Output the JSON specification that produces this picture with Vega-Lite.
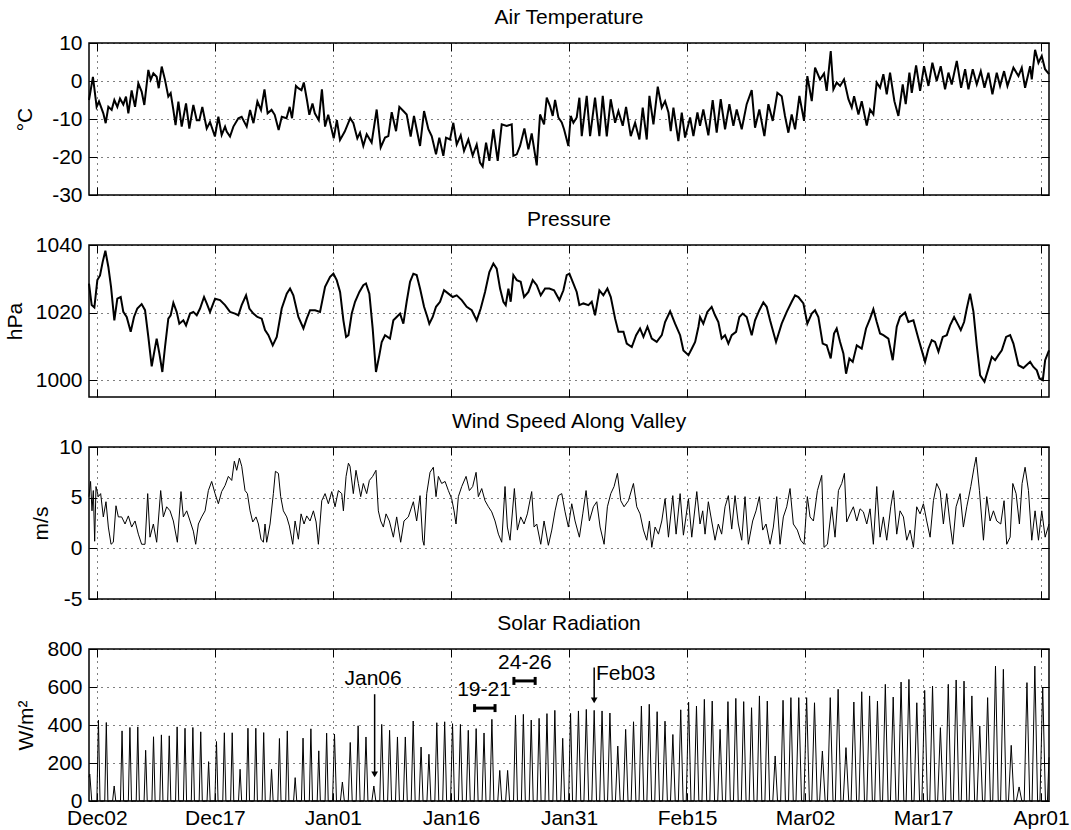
{
"$schema": "https://vega.github.io/schema/vega-lite/v6.json",
"background": "white",
"padding": {"left": 3, "top": 6, "right": 0, "bottom": 0},
"spacing": 50,
"bounds": "flush",
"config": {
  "font": "Liberation Sans",
  "view": {"stroke": "black", "strokeWidth": 1.5},
  "axis": {"labelFont": "Liberation Sans", "labelFontSize": 21, "labelColor": "black", "titleFont": "Liberation Sans", "titleFontSize": 21, "titleFontWeight": "normal", "titleColor": "black", "titlePadding": 10, "domain": false, "tickColor": "black", "tickSize": -8, "tickWidth": 1, "labelPadding": 15, "gridColor": "black", "gridDash": [1, 5], "gridOpacity": 1, "gridWidth": 1},
  "title": {"font": "Liberation Sans", "fontSize": 21, "fontWeight": "normal", "color": "black", "offset": 4}
},
"datasets": {
"T": [{"d":0,"v":-5},{"d":0.5,"v":1.1},{"d":0.97,"v":-6.8},{"d":1.27,"v":-5.4},{"d":1.82,"v":-8.5},{"d":2.12,"v":-11.1},{"d":2.46,"v":-6.8},{"d":2.88,"v":-7.6},{"d":3.22,"v":-5},{"d":3.6,"v":-6.8},{"d":3.94,"v":-4.6},{"d":4.36,"v":-6.2},{"d":4.7,"v":-4.1},{"d":5,"v":-8.5},{"d":5.42,"v":-2.5},{"d":5.85,"v":-6.8},{"d":6.27,"v":-0.6},{"d":6.69,"v":-2.8},{"d":7.03,"v":-6.3},{"d":7.54,"v":2.9},{"d":7.84,"v":0.3},{"d":8.18,"v":2},{"d":8.6,"v":1.1},{"d":8.86,"v":-1.9},{"d":9.24,"v":3.8},{"d":9.66,"v":0.3},{"d":10.08,"v":-4.1},{"d":10.38,"v":-3.2},{"d":10.72,"v":-7.6},{"d":11,"v":-11.6},{"d":11.36,"v":-5.4},{"d":11.78,"v":-12},{"d":12.33,"v":-5.9},{"d":12.75,"v":-12.5},{"d":13.26,"v":-6.3},{"d":13.69,"v":-10.3},{"d":14.03,"v":-10.3},{"d":14.4,"v":-6.8},{"d":14.96,"v":-12.5},{"d":15.38,"v":-10.8},{"d":16,"v":-14.6},{"d":16.44,"v":-9.4},{"d":16.86,"v":-14.2},{"d":17.29,"v":-12},{"d":17.5,"v":-13.3},{"d":17.92,"v":-14.6},{"d":18.35,"v":-12},{"d":18.98,"v":-9.8},{"d":19.4,"v":-9.4},{"d":20.04,"v":-12},{"d":20.47,"v":-7.6},{"d":20.9,"v":-11.1},{"d":21.4,"v":-5.4},{"d":21.86,"v":-7.6},{"d":22.3,"v":-2.2},{"d":22.7,"v":-8.5},{"d":23.2,"v":-7.6},{"d":23.6,"v":-8.9},{"d":24.1,"v":-12.9},{"d":24.5,"v":-9.4},{"d":25.1,"v":-9.8},{"d":25.5,"v":-6.8},{"d":25.8,"v":-9.8},{"d":26.3,"v":-1.3},{"d":26.6,"v":-1.9},{"d":27,"v":-2.4},{"d":27.3,"v":-0.4},{"d":27.7,"v":-5},{"d":28,"v":-8.9},{"d":28.4,"v":-5.9},{"d":28.7,"v":-8.5},{"d":29.2,"v":-10.3},{"d":29.6,"v":-2.2},{"d":30,"v":-12},{"d":30.4,"v":-8.9},{"d":31.1,"v":-15.1},{"d":31.5,"v":-10.3},{"d":31.9,"v":-15.5},{"d":32.5,"v":-13.3},{"d":33.2,"v":-9.8},{"d":33.6,"v":-11.1},{"d":34.1,"v":-15.1},{"d":34.44,"v":-13.6},{"d":34.86,"v":-17.1},{"d":35.29,"v":-14},{"d":35.92,"v":-16.2},{"d":36.56,"v":-7.5},{"d":37.07,"v":-17.5},{"d":37.62,"v":-14.9},{"d":38.04,"v":-14.5},{"d":38.47,"v":-8.2},{"d":39.02,"v":-13.2},{"d":39.44,"v":-6.8},{"d":39.95,"v":-7.9},{"d":40.37,"v":-8.8},{"d":40.88,"v":-14.6},{"d":41.3,"v":-9.2},{"d":41.64,"v":-12.7},{"d":42.07,"v":-17.1},{"d":42.58,"v":-7.9},{"d":43.13,"v":-12.7},{"d":43.55,"v":-14.5},{"d":44.1,"v":-19.3},{"d":44.52,"v":-14.9},{"d":45.03,"v":-19.7},{"d":45.37,"v":-14.9},{"d":45.88,"v":-15.4},{"d":46.3,"v":-11},{"d":46.73,"v":-16.7},{"d":47.24,"v":-14.3},{"d":47.66,"v":-18.4},{"d":48.21,"v":-15.4},{"d":48.76,"v":-19.6},{"d":49.27,"v":-16.7},{"d":49.69,"v":-21.5},{"d":50.03,"v":-22.5},{"d":50.46,"v":-16.2},{"d":50.88,"v":-21},{"d":51.39,"v":-12.7},{"d":51.94,"v":-21},{"d":52.45,"v":-11.4},{"d":53.08,"v":-11.8},{"d":53.72,"v":-11.4},{"d":53.93,"v":-19.7},{"d":54.36,"v":-19.3},{"d":54.78,"v":-17.1},{"d":55.33,"v":-12.5},{"d":55.84,"v":-18},{"d":56.26,"v":-13.8},{"d":56.9,"v":-22.2},{"d":57.32,"v":-8.8},{"d":57.83,"v":-11.4},{"d":58.17,"v":-4.4},{"d":58.59,"v":-6.6},{"d":58.93,"v":-9.2},{"d":59.23,"v":-5},{"d":59.65,"v":-9.6},{"d":60.08,"v":-10.9},{"d":60.37,"v":-12.7},{"d":60.92,"v":-17.1},{"d":61.22,"v":-9.2},{"d":61.56,"v":-11},{"d":61.98,"v":-9.6},{"d":62.32,"v":-4.4},{"d":62.62,"v":-14.5},{"d":63.25,"v":-3.9},{"d":63.68,"v":-14.5},{"d":64.31,"v":-4.4},{"d":64.86,"v":-14.5},{"d":65.29,"v":-3.9},{"d":65.8,"v":-14.6},{"d":66.3,"v":-4.8},{"d":66.86,"v":-11},{"d":67.28,"v":-7.9},{"d":67.83,"v":-11.8},{"d":68.25,"v":-6.8},{"d":68.85,"v":-14.5},{"d":69.4,"v":-11},{"d":69.95,"v":-15.4},{"d":70.37,"v":-7},{"d":70.88,"v":-15.4},{"d":71.22,"v":-3.9},{"d":71.73,"v":-11.4},{"d":72.28,"v":-1.5},{"d":72.79,"v":-7},{"d":73.21,"v":-5.3},{"d":73.64,"v":-8.3},{"d":73.93,"v":-13.2},{"d":74.27,"v":-7},{"d":74.9,"v":-15.8},{"d":75.33,"v":-8.3},{"d":75.75,"v":-14.9},{"d":76.39,"v":-9.6},{"d":76.81,"v":-14.5},{"d":77.32,"v":-8.3},{"d":77.65,"v":-11.8},{"d":78.07,"v":-7.5},{"d":78.71,"v":-14.3},{"d":79.26,"v":-5},{"d":79.77,"v":-13.6},{"d":80.28,"v":-4.8},{"d":80.83,"v":-12.7},{"d":81.38,"v":-6.1},{"d":81.89,"v":-11.8},{"d":82.31,"v":-7.5},{"d":82.95,"v":-12.7},{"d":83.58,"v":-6.1},{"d":84.22,"v":-2.4},{"d":84.64,"v":-12.3},{"d":85.19,"v":-7.5},{"d":85.83,"v":-14.5},{"d":86.34,"v":-6.1},{"d":86.89,"v":-10.5},{"d":87.48,"v":-3.1},{"d":88.03,"v":-4},{"d":88.45,"v":-9.2},{"d":88.88,"v":-13.6},{"d":89.3,"v":-8.8},{"d":89.73,"v":-12.7},{"d":90.28,"v":-3.9},{"d":90.87,"v":-10.5},{"d":91.29,"v":1.3},{"d":91.85,"v":-5.3},{"d":92.27,"v":3.5},{"d":92.9,"v":0.4},{"d":93.41,"v":2},{"d":93.75,"v":-2.6},{"d":94.26,"v":7.9},{"d":94.6,"v":-2.2},{"d":95.02,"v":-0.4},{"d":95.45,"v":-1.3},{"d":95.95,"v":0.4},{"d":96.51,"v":-4.8},{"d":96.93,"v":-7},{"d":97.23,"v":-4},{"d":97.78,"v":-8.8},{"d":98.2,"v":-5.3},{"d":98.84,"v":-11.7},{"d":99.26,"v":-7.5},{"d":99.68,"v":-8.8},{"d":100.1,"v":-0.4},{"d":100.53,"v":-1.8},{"d":100.95,"v":1.8},{"d":101.38,"v":-3.5},{"d":101.8,"v":2.2},{"d":102.35,"v":-5.3},{"d":102.86,"v":-9.2},{"d":103.41,"v":-0.9},{"d":103.79,"v":-6.1},{"d":104.26,"v":2.2},{"d":104.56,"v":-3.1},{"d":105.11,"v":4.1},{"d":105.62,"v":-2.6},{"d":106.12,"v":3.9},{"d":106.68,"v":-1.3},{"d":107.18,"v":4.8},{"d":107.73,"v":0},{"d":108.24,"v":3.9},{"d":108.79,"v":-2.2},{"d":109.22,"v":2.2},{"d":109.64,"v":-0.9},{"d":110.28,"v":5.3},{"d":110.83,"v":-1.8},{"d":111.34,"v":3.1},{"d":111.76,"v":-2.2},{"d":112.31,"v":3.1},{"d":112.82,"v":-0.9},{"d":113.33,"v":2.6},{"d":113.8,"v":-1.8},{"d":114.3,"v":2.2},{"d":114.81,"v":-3.5},{"d":115.36,"v":2.2},{"d":115.78,"v":-1.3},{"d":116.29,"v":2.6},{"d":116.72,"v":-1.3},{"d":117.48,"v":3.5},{"d":118.12,"v":1.3},{"d":118.54,"v":3.5},{"d":118.96,"v":-1.8},{"d":119.6,"v":3.9},{"d":119.81,"v":0.4},{"d":120.23,"v":8.2},{"d":120.66,"v":4.8},{"d":121.08,"v":6.6},{"d":121.5,"v":3.1},{"d":122,"v":1.8}],
"P": [{"d":0,"v":1028.6},{"d":0.34,"v":1022.2},{"d":0.68,"v":1021.5},{"d":1.06,"v":1029.6},{"d":1.4,"v":1031},{"d":1.74,"v":1035},{"d":2.08,"v":1038.3},{"d":2.46,"v":1033.5},{"d":2.8,"v":1027.6},{"d":3.22,"v":1017.7},{"d":3.6,"v":1024.1},{"d":4.03,"v":1024.6},{"d":4.36,"v":1020.2},{"d":4.79,"v":1018.7},{"d":5.3,"v":1014.3},{"d":5.72,"v":1018.7},{"d":6.14,"v":1021.2},{"d":6.69,"v":1022.5},{"d":7.12,"v":1020.7},{"d":7.54,"v":1012.8},{"d":7.97,"v":1004.1},{"d":8.26,"v":1007.9},{"d":8.6,"v":1012.3},{"d":8.94,"v":1007.9},{"d":9.32,"v":1002.4},{"d":9.66,"v":1009.8},{"d":10.08,"v":1018.2},{"d":10.38,"v":1019.2},{"d":10.72,"v":1022.9},{"d":11.14,"v":1020.2},{"d":11.48,"v":1016.7},{"d":11.99,"v":1017.7},{"d":12.33,"v":1016.2},{"d":12.84,"v":1019.7},{"d":13.26,"v":1020.2},{"d":13.69,"v":1019.2},{"d":14.11,"v":1021.2},{"d":14.62,"v":1024.6},{"d":14.96,"v":1022.7},{"d":15.38,"v":1020.2},{"d":16.02,"v":1024.1},{"d":16.65,"v":1023.7},{"d":17.29,"v":1022.2},{"d":17.92,"v":1020.2},{"d":18.56,"v":1019.7},{"d":18.98,"v":1019.2},{"d":19.4,"v":1022.2},{"d":19.96,"v":1025.1},{"d":20.38,"v":1021.2},{"d":20.89,"v":1019.7},{"d":21.4,"v":1018.7},{"d":21.95,"v":1018.2},{"d":22.37,"v":1014.8},{"d":22.8,"v":1013.3},{"d":23.35,"v":1010.3},{"d":23.86,"v":1012.8},{"d":24.49,"v":1021.2},{"d":25.13,"v":1025.6},{"d":25.55,"v":1027.1},{"d":25.97,"v":1025.1},{"d":26.61,"v":1018.7},{"d":27.25,"v":1015.3},{"d":27.67,"v":1018.2},{"d":28.09,"v":1020.7},{"d":28.73,"v":1020.7},{"d":29.36,"v":1020.2},{"d":30,"v":1027.6},{"d":30.64,"v":1030.6},{"d":31.06,"v":1031.5},{"d":31.48,"v":1029.6},{"d":31.91,"v":1026.1},{"d":32.33,"v":1017.7},{"d":32.67,"v":1012.8},{"d":32.97,"v":1013.3},{"d":33.39,"v":1019.7},{"d":33.81,"v":1023.2},{"d":34.36,"v":1026.1},{"d":34.86,"v":1028.1},{"d":35.2,"v":1028.6},{"d":35.63,"v":1025.6},{"d":36.05,"v":1015.3},{"d":36.47,"v":1002.4},{"d":36.9,"v":1007.4},{"d":37.2,"v":1011.3},{"d":37.62,"v":1013.3},{"d":38.25,"v":1012.3},{"d":38.68,"v":1017.7},{"d":39.1,"v":1018.7},{"d":39.53,"v":1019.7},{"d":39.95,"v":1016.7},{"d":40.37,"v":1023.2},{"d":40.8,"v":1029.1},{"d":41.22,"v":1031.5},{"d":41.64,"v":1031.1},{"d":42.07,"v":1027.1},{"d":42.58,"v":1021.7},{"d":43,"v":1018.7},{"d":43.25,"v":1016.7},{"d":43.68,"v":1018.7},{"d":44.1,"v":1021.7},{"d":44.61,"v":1023.2},{"d":45.12,"v":1026.6},{"d":45.67,"v":1025.6},{"d":46.22,"v":1024.6},{"d":46.73,"v":1025.1},{"d":47.37,"v":1023.7},{"d":48,"v":1021.7},{"d":48.64,"v":1020.7},{"d":49.27,"v":1017.7},{"d":49.78,"v":1021.2},{"d":50.33,"v":1026.1},{"d":50.88,"v":1032},{"d":51.39,"v":1034.5},{"d":51.81,"v":1033},{"d":52.24,"v":1027.1},{"d":52.66,"v":1023.2},{"d":52.96,"v":1022.2},{"d":53.3,"v":1027.1},{"d":53.59,"v":1023.2},{"d":53.93,"v":1031.1},{"d":54.36,"v":1029.6},{"d":54.86,"v":1029.1},{"d":55.29,"v":1024.6},{"d":55.84,"v":1026.1},{"d":56.39,"v":1029.6},{"d":56.9,"v":1028.1},{"d":57.41,"v":1025.1},{"d":57.96,"v":1027.1},{"d":58.51,"v":1027.1},{"d":59.1,"v":1026.6},{"d":59.78,"v":1023.7},{"d":60.29,"v":1026.6},{"d":60.71,"v":1031.1},{"d":61.05,"v":1031.5},{"d":61.47,"v":1029.1},{"d":61.98,"v":1026.1},{"d":62.32,"v":1022.2},{"d":62.83,"v":1022.7},{"d":63.47,"v":1022.2},{"d":63.89,"v":1023.2},{"d":64.31,"v":1019.2},{"d":64.86,"v":1026.6},{"d":65.37,"v":1025.1},{"d":65.88,"v":1027.1},{"d":66.31,"v":1024.6},{"d":66.86,"v":1018.2},{"d":67.28,"v":1014.3},{"d":67.92,"v":1014.3},{"d":68.34,"v":1010.8},{"d":68.98,"v":1009.8},{"d":69.53,"v":1013.3},{"d":70.03,"v":1015.3},{"d":70.46,"v":1012.8},{"d":70.97,"v":1015.8},{"d":71.52,"v":1012.3},{"d":72.15,"v":1011.3},{"d":72.79,"v":1013.3},{"d":73.21,"v":1017.2},{"d":73.85,"v":1020.4},{"d":74.48,"v":1016.7},{"d":75.12,"v":1013.3},{"d":75.54,"v":1008.8},{"d":76.18,"v":1007.4},{"d":76.6,"v":1009.3},{"d":77.03,"v":1011.3},{"d":77.45,"v":1015.8},{"d":77.65,"v":1018.7},{"d":78.07,"v":1016.7},{"d":78.58,"v":1020.2},{"d":79.13,"v":1021.7},{"d":79.56,"v":1019.2},{"d":79.98,"v":1017.2},{"d":80.4,"v":1012.3},{"d":80.83,"v":1013.3},{"d":81.25,"v":1010.8},{"d":81.68,"v":1013.3},{"d":82.23,"v":1014.3},{"d":82.65,"v":1018.7},{"d":83.07,"v":1019.7},{"d":83.58,"v":1018.7},{"d":84.22,"v":1013.3},{"d":84.64,"v":1017.7},{"d":85.19,"v":1020.7},{"d":85.7,"v":1023},{"d":86.12,"v":1021.7},{"d":86.55,"v":1017.7},{"d":87.31,"v":1011.3},{"d":88.03,"v":1016.7},{"d":88.67,"v":1020.2},{"d":89.3,"v":1023.2},{"d":89.73,"v":1025.1},{"d":90.15,"v":1024.6},{"d":90.79,"v":1022.7},{"d":91.29,"v":1016.7},{"d":91.85,"v":1019.7},{"d":92.27,"v":1020.7},{"d":92.69,"v":1018.7},{"d":93.24,"v":1010.8},{"d":93.75,"v":1010.3},{"d":94.26,"v":1006.4},{"d":94.68,"v":1013.8},{"d":95.02,"v":1015.3},{"d":95.45,"v":1011.3},{"d":95.87,"v":1007.9},{"d":96.21,"v":1001.9},{"d":96.63,"v":1006.4},{"d":97.06,"v":1005.4},{"d":97.57,"v":1010.3},{"d":98.2,"v":1009.3},{"d":98.75,"v":1015.3},{"d":99.26,"v":1018.2},{"d":99.68,"v":1021},{"d":100.11,"v":1017.2},{"d":100.53,"v":1013.8},{"d":100.95,"v":1013.3},{"d":101.59,"v":1012.3},{"d":102.14,"v":1005.9},{"d":102.65,"v":1015.8},{"d":103.07,"v":1018.7},{"d":103.71,"v":1020},{"d":104.13,"v":1017.2},{"d":104.77,"v":1017.7},{"d":105.4,"v":1012.3},{"d":105.83,"v":1008.8},{"d":106.25,"v":1005.4},{"d":106.68,"v":1009.3},{"d":107.1,"v":1011.8},{"d":107.52,"v":1011.3},{"d":107.95,"v":1008.4},{"d":108.5,"v":1012.8},{"d":109.01,"v":1013.3},{"d":109.43,"v":1016.2},{"d":109.94,"v":1018.7},{"d":110.49,"v":1016.2},{"d":110.79,"v":1014.8},{"d":111.21,"v":1017.2},{"d":111.55,"v":1021.2},{"d":111.97,"v":1025.6},{"d":112.4,"v":1020.2},{"d":112.82,"v":1010.3},{"d":113.25,"v":1001.4},{"d":113.8,"v":999.5},{"d":114.3,"v":1003.4},{"d":114.73,"v":1006.9},{"d":115.15,"v":1005.9},{"d":115.57,"v":1007.4},{"d":116,"v":1008.8},{"d":116.55,"v":1012.8},{"d":117.06,"v":1013.3},{"d":117.48,"v":1010.8},{"d":118.12,"v":1004.4},{"d":118.75,"v":1003.6},{"d":119.6,"v":1005.4},{"d":120.02,"v":1003.9},{"d":120.45,"v":1002.9},{"d":120.79,"v":1000.5},{"d":121.21,"v":1000},{"d":121.51,"v":1005.9},{"d":122,"v":1008.8}],
"W": [{"d":0,"v":5.1},{"d":0.2,"v":6.6},{"d":0.38,"v":3.7},{"d":0.55,"v":5.7},{"d":0.72,"v":0.7},{"d":0.89,"v":6.1},{"d":1.19,"v":5.1},{"d":1.48,"v":5.4},{"d":1.82,"v":3.1},{"d":2.16,"v":4.6},{"d":2.46,"v":2.1},{"d":2.8,"v":0.4},{"d":3.09,"v":0.6},{"d":3.43,"v":4.2},{"d":3.73,"v":3.1},{"d":4.15,"v":3.1},{"d":4.58,"v":2.4},{"d":5,"v":3.2},{"d":5.42,"v":2.1},{"d":5.85,"v":2.7},{"d":6.27,"v":1.4},{"d":6.69,"v":0.4},{"d":7.12,"v":0.4},{"d":7.46,"v":5.4},{"d":7.75,"v":1.1},{"d":8.18,"v":2.4},{"d":8.6,"v":0.6},{"d":9.11,"v":5.7},{"d":9.45,"v":3.1},{"d":9.87,"v":4.1},{"d":10.3,"v":3.7},{"d":10.72,"v":2.7},{"d":11.23,"v":0.6},{"d":11.69,"v":5.6},{"d":11.99,"v":3.1},{"d":12.42,"v":3.7},{"d":12.84,"v":2.7},{"d":13.26,"v":1.7},{"d":13.56,"v":0.4},{"d":13.9,"v":2.4},{"d":14.32,"v":3.1},{"d":14.75,"v":3.7},{"d":15.17,"v":5.7},{"d":15.59,"v":6.6},{"d":16.02,"v":5.4},{"d":16.44,"v":4.4},{"d":16.86,"v":5.6},{"d":17.29,"v":6.2},{"d":17.71,"v":7.1},{"d":18.14,"v":6.7},{"d":18.47,"v":8.6},{"d":18.77,"v":7.7},{"d":19.11,"v":8.9},{"d":19.41,"v":8.1},{"d":19.83,"v":5.7},{"d":20.13,"v":5.4},{"d":20.47,"v":3.7},{"d":20.81,"v":2.6},{"d":21.23,"v":3.1},{"d":21.53,"v":2.4},{"d":21.86,"v":0.9},{"d":22.16,"v":0.6},{"d":22.37,"v":2.4},{"d":22.58,"v":0.6},{"d":23.01,"v":2.4},{"d":23.43,"v":5.4},{"d":23.69,"v":7.6},{"d":24.07,"v":7.4},{"d":24.36,"v":5.1},{"d":24.7,"v":3.7},{"d":25.13,"v":3.1},{"d":25.47,"v":2.2},{"d":25.89,"v":0.4},{"d":26.19,"v":2.7},{"d":26.61,"v":0.9},{"d":26.95,"v":3.4},{"d":27.33,"v":2.4},{"d":27.67,"v":3.2},{"d":28.09,"v":2.7},{"d":28.52,"v":3.7},{"d":28.86,"v":2.6},{"d":29.15,"v":0.4},{"d":29.58,"v":4.7},{"d":30,"v":5.4},{"d":30.42,"v":4.4},{"d":30.85,"v":5.6},{"d":31.27,"v":4.1},{"d":31.69,"v":5.7},{"d":32.12,"v":5.4},{"d":32.33,"v":3.7},{"d":32.67,"v":7.1},{"d":32.97,"v":8.4},{"d":33.17,"v":8.1},{"d":33.59,"v":5.4},{"d":33.93,"v":7.7},{"d":34.23,"v":6.4},{"d":34.53,"v":5.1},{"d":34.86,"v":6.4},{"d":35.29,"v":5.4},{"d":35.63,"v":6.7},{"d":36.05,"v":7.1},{"d":36.47,"v":7.7},{"d":36.77,"v":3.7},{"d":37.07,"v":2.7},{"d":37.41,"v":2.1},{"d":37.75,"v":3.4},{"d":38.17,"v":2.7},{"d":38.68,"v":1.1},{"d":39.1,"v":3.1},{"d":39.61,"v":0.6},{"d":40.03,"v":2.7},{"d":40.58,"v":3.1},{"d":41.22,"v":4.6},{"d":41.64,"v":2.7},{"d":42.07,"v":5.2},{"d":42.41,"v":0.8},{"d":42.58,"v":0.3},{"d":42.92,"v":5.4},{"d":43.34,"v":7.5},{"d":43.76,"v":8},{"d":44.1,"v":5.1},{"d":44.4,"v":7.1},{"d":44.82,"v":6.4},{"d":45.25,"v":6.6},{"d":45.67,"v":5.7},{"d":46.09,"v":4.9},{"d":46.39,"v":3.7},{"d":46.64,"v":2.4},{"d":46.94,"v":5.1},{"d":47.37,"v":6.1},{"d":47.92,"v":7.1},{"d":48.34,"v":5.7},{"d":48.76,"v":6.1},{"d":49.19,"v":7.5},{"d":49.48,"v":5.1},{"d":49.91,"v":5.9},{"d":50.33,"v":4.7},{"d":50.76,"v":4.1},{"d":51.18,"v":3.6},{"d":51.6,"v":2.7},{"d":52.03,"v":1.4},{"d":52.45,"v":0.6},{"d":52.87,"v":6.1},{"d":53.17,"v":2.1},{"d":53.51,"v":0.8},{"d":54.06,"v":5.9},{"d":54.44,"v":1.8},{"d":54.86,"v":3.1},{"d":55.29,"v":2.4},{"d":55.71,"v":3.4},{"d":56.26,"v":5.6},{"d":56.56,"v":2.1},{"d":56.9,"v":2.4},{"d":57.41,"v":0.4},{"d":57.83,"v":2.7},{"d":58.38,"v":0.3},{"d":58.81,"v":1.8},{"d":59.23,"v":3.7},{"d":59.65,"v":5.2},{"d":60.08,"v":5.4},{"d":60.5,"v":3.6},{"d":60.92,"v":2.1},{"d":61.35,"v":4.4},{"d":61.77,"v":2.7},{"d":62.32,"v":1.1},{"d":62.75,"v":3.4},{"d":63.17,"v":5.7},{"d":63.59,"v":2.7},{"d":64.1,"v":4.1},{"d":64.53,"v":4.6},{"d":64.95,"v":2.1},{"d":65.46,"v":0.4},{"d":65.88,"v":4.1},{"d":66.31,"v":5.4},{"d":66.73,"v":6.1},{"d":67.15,"v":7.4},{"d":67.58,"v":4.7},{"d":68,"v":4.1},{"d":68.55,"v":4.7},{"d":69.19,"v":6.4},{"d":69.61,"v":4.1},{"d":70.03,"v":3.4},{"d":70.46,"v":1.8},{"d":70.88,"v":0.8},{"d":71.22,"v":2.7},{"d":71.52,"v":0.1},{"d":71.94,"v":2.1},{"d":72.37,"v":1.4},{"d":72.79,"v":2.7},{"d":73.21,"v":4.9},{"d":73.64,"v":1.1},{"d":74.19,"v":5.2},{"d":74.61,"v":1.4},{"d":75.12,"v":5.4},{"d":75.54,"v":1.3},{"d":76.18,"v":4.9},{"d":76.6,"v":1.1},{"d":77.24,"v":5.6},{"d":77.65,"v":2.4},{"d":77.99,"v":3.7},{"d":78.29,"v":1.4},{"d":78.71,"v":4.6},{"d":79.13,"v":2.7},{"d":79.56,"v":0.8},{"d":79.98,"v":2.4},{"d":80.4,"v":1.4},{"d":80.83,"v":4.1},{"d":81.25,"v":5.2},{"d":81.68,"v":1.9},{"d":82.1,"v":5.2},{"d":82.52,"v":2.4},{"d":82.95,"v":0.8},{"d":83.37,"v":5.1},{"d":83.79,"v":0.4},{"d":84.34,"v":2.7},{"d":84.77,"v":3.7},{"d":85.19,"v":5.1},{"d":85.62,"v":1.8},{"d":86.04,"v":2.4},{"d":86.55,"v":0.4},{"d":86.97,"v":2.1},{"d":87.4,"v":5.1},{"d":87.82,"v":0.4},{"d":88.24,"v":3.1},{"d":88.67,"v":4.1},{"d":89.09,"v":5.9},{"d":89.51,"v":2.4},{"d":90.02,"v":1.8},{"d":90.45,"v":0.8},{"d":90.87,"v":0.4},{"d":91.29,"v":5.1},{"d":91.63,"v":3.1},{"d":92.06,"v":2.7},{"d":92.57,"v":5.7},{"d":93.12,"v":7.2},{"d":93.41,"v":0.1},{"d":93.84,"v":0.4},{"d":94.39,"v":4.1},{"d":94.81,"v":1.1},{"d":95.24,"v":5.7},{"d":95.66,"v":6.4},{"d":96,"v":7.4},{"d":96.29,"v":2.6},{"d":96.72,"v":3.4},{"d":97.14,"v":4.1},{"d":97.57,"v":2.7},{"d":97.99,"v":3.9},{"d":98.41,"v":3.6},{"d":98.84,"v":2.4},{"d":99.26,"v":3.9},{"d":99.68,"v":0.4},{"d":100.11,"v":6.1},{"d":100.53,"v":1.1},{"d":100.95,"v":3.1},{"d":101.38,"v":0.8},{"d":101.89,"v":4.1},{"d":102.23,"v":5.7},{"d":102.65,"v":1.4},{"d":103.07,"v":3.7},{"d":103.5,"v":3.1},{"d":103.92,"v":0.8},{"d":104.35,"v":1.8},{"d":104.77,"v":0.1},{"d":105.19,"v":4.1},{"d":105.62,"v":3.4},{"d":106.04,"v":4.4},{"d":106.46,"v":2.7},{"d":106.89,"v":1.1},{"d":107.31,"v":4.7},{"d":107.73,"v":6.4},{"d":108.16,"v":5.7},{"d":108.58,"v":2.4},{"d":109,"v":5.4},{"d":109.43,"v":2.4},{"d":109.77,"v":0.4},{"d":110.19,"v":4.1},{"d":110.7,"v":5.4},{"d":111.12,"v":2.1},{"d":111.55,"v":4.1},{"d":112.06,"v":6.1},{"d":112.48,"v":8},{"d":112.74,"v":9},{"d":113.16,"v":5.7},{"d":113.67,"v":0.8},{"d":114.09,"v":5.1},{"d":114.51,"v":2.7},{"d":114.94,"v":3.7},{"d":115.36,"v":2.7},{"d":115.87,"v":2.4},{"d":116.29,"v":4.7},{"d":116.63,"v":0.4},{"d":117.06,"v":1.1},{"d":117.4,"v":6.4},{"d":117.82,"v":5.4},{"d":118.24,"v":2.4},{"d":118.58,"v":6.4},{"d":118.96,"v":8},{"d":119.39,"v":5.7},{"d":119.81,"v":0.8},{"d":120.23,"v":3.7},{"d":120.66,"v":0.8},{"d":121.08,"v":3.7},{"d":121.51,"v":1.1},{"d":122,"v":2.4}],
"S": [{"d":0,"v":125},{"d":0.1,"v":141},{"d":0.35,"v":0},
{"d":1,"v":0},{"d":1.2,"v":425},{"d":1.4,"v":0},{"d":2,"v":0},{"d":2.2,"v":413},{"d":2.4,"v":0},{"d":3,"v":0},{"d":3.2,"v":79},{"d":3.4,"v":0},{"d":4,"v":0},{"d":4.2,"v":369},{"d":4.4,"v":0},{"d":5,"v":0},{"d":5.2,"v":387},{"d":5.4,"v":0},{"d":6,"v":0},{"d":6.2,"v":390},{"d":6.4,"v":0},{"d":7,"v":0},{"d":7.2,"v":267},{"d":7.4,"v":0},{"d":8,"v":0},{"d":8.2,"v":338},{"d":8.4,"v":0},{"d":9,"v":0},{"d":9.2,"v":348},{"d":9.4,"v":0},{"d":10,"v":0},{"d":10.2,"v":343},{"d":10.4,"v":0},
{"d":11,"v":0},{"d":11.2,"v":390},{"d":11.4,"v":0},{"d":12,"v":0},{"d":12.2,"v":383},{"d":12.4,"v":0},{"d":13,"v":0},{"d":13.2,"v":387},{"d":13.4,"v":0},{"d":14,"v":0},{"d":14.2,"v":364},{"d":14.4,"v":0},{"d":15,"v":0},{"d":15.2,"v":207},{"d":15.4,"v":0},{"d":16,"v":0},{"d":16.2,"v":313},{"d":16.4,"v":0},{"d":17,"v":0},{"d":17.2,"v":359},{"d":17.4,"v":0},{"d":18,"v":0},{"d":18.2,"v":359},{"d":18.4,"v":0},{"d":19,"v":0},{"d":19.2,"v":167},{"d":19.4,"v":0},{"d":20,"v":0},{"d":20.2,"v":383},{"d":20.4,"v":0},
{"d":21,"v":0},{"d":21.2,"v":383},{"d":21.4,"v":0},{"d":22,"v":0},{"d":22.2,"v":360},{"d":22.4,"v":0},{"d":23,"v":0},{"d":23.2,"v":167},{"d":23.4,"v":0},{"d":24,"v":0},{"d":24.2,"v":329},{"d":24.4,"v":0},{"d":25,"v":0},{"d":25.2,"v":369},{"d":25.4,"v":0},{"d":26,"v":0},{"d":26.2,"v":123},{"d":26.4,"v":0},{"d":27,"v":0},{"d":27.2,"v":331},{"d":27.4,"v":0},{"d":28,"v":0},{"d":28.2,"v":380},{"d":28.4,"v":0},{"d":29,"v":0},{"d":29.2,"v":264},{"d":29.4,"v":0},{"d":30,"v":0},{"d":30.2,"v":357},{"d":30.4,"v":0},
{"d":30.95,"v":0},{"d":31.2,"v":352},{"d":31.45,"v":0},{"d":31.95,"v":0},{"d":32.2,"v":100},{"d":32.45,"v":0},{"d":32.95,"v":0},{"d":33.2,"v":308},{"d":33.45,"v":0},{"d":33.95,"v":0},{"d":34.2,"v":396},{"d":34.45,"v":0},{"d":34.95,"v":0},{"d":35.2,"v":337},{"d":35.45,"v":0},{"d":35.95,"v":0},{"d":36.2,"v":79},{"d":36.45,"v":0},{"d":36.95,"v":0},{"d":37.2,"v":403},{"d":37.45,"v":0},{"d":37.95,"v":0},{"d":38.2,"v":372},{"d":38.45,"v":0},{"d":38.95,"v":0},{"d":39.2,"v":337},{"d":39.45,"v":0},{"d":39.95,"v":0},{"d":40.2,"v":337},{"d":40.45,"v":0},
{"d":40.95,"v":0},{"d":41.2,"v":421},{"d":41.45,"v":0},{"d":41.95,"v":0},{"d":42.2,"v":284},{"d":42.45,"v":0},{"d":42.95,"v":0},{"d":43.2,"v":246},{"d":43.45,"v":0},{"d":43.95,"v":0},{"d":44.2,"v":412},{"d":44.45,"v":0},{"d":44.95,"v":0},{"d":45.2,"v":417},{"d":45.45,"v":0},{"d":45.95,"v":0},{"d":46.2,"v":407},{"d":46.45,"v":0},{"d":46.95,"v":0},{"d":47.2,"v":403},{"d":47.45,"v":0},{"d":47.95,"v":0},{"d":48.2,"v":372},{"d":48.45,"v":0},{"d":48.95,"v":0},{"d":49.2,"v":381},{"d":49.45,"v":0},{"d":49.95,"v":0},{"d":50.2,"v":358},{"d":50.45,"v":0},
{"d":50.95,"v":0},{"d":51.2,"v":430},{"d":51.45,"v":0},{"d":51.95,"v":0},{"d":52.2,"v":161},{"d":52.45,"v":0},{"d":52.95,"v":0},{"d":53.2,"v":161},{"d":53.45,"v":0},{"d":53.95,"v":0},{"d":54.2,"v":451},{"d":54.45,"v":0},{"d":54.95,"v":0},{"d":55.2,"v":456},{"d":55.45,"v":0},{"d":55.95,"v":0},{"d":56.2,"v":426},{"d":56.45,"v":0},{"d":56.95,"v":0},{"d":57.2,"v":435},{"d":57.45,"v":0},{"d":57.95,"v":0},{"d":58.2,"v":460},{"d":58.45,"v":0},{"d":58.95,"v":0},{"d":59.2,"v":477},{"d":59.45,"v":0},{"d":59.95,"v":0},{"d":60.2,"v":330},{"d":60.45,"v":0},
{"d":60.95,"v":0},{"d":61.2,"v":461},{"d":61.45,"v":0},{"d":61.9,"v":0},{"d":62.2,"v":474},{"d":62.5,"v":0},{"d":62.9,"v":0},{"d":63.2,"v":482},{"d":63.5,"v":0},{"d":63.9,"v":0},{"d":64.2,"v":477},{"d":64.5,"v":0},{"d":64.9,"v":0},{"d":65.2,"v":474},{"d":65.5,"v":0},{"d":65.9,"v":0},{"d":66.2,"v":463},{"d":66.5,"v":0},{"d":66.9,"v":0},{"d":67.2,"v":289},{"d":67.5,"v":0},{"d":67.9,"v":0},{"d":68.2,"v":377},{"d":68.5,"v":0},{"d":68.9,"v":0},{"d":69.2,"v":417},{"d":69.5,"v":0},{"d":69.9,"v":0},{"d":70.2,"v":500},{"d":70.5,"v":0},
{"d":70.9,"v":0},{"d":71.2,"v":509},{"d":71.5,"v":0},{"d":71.9,"v":0},{"d":72.2,"v":470},{"d":72.5,"v":0},{"d":72.9,"v":0},{"d":73.2,"v":420},{"d":73.5,"v":0},{"d":73.9,"v":0},{"d":74.2,"v":350},{"d":74.5,"v":0},{"d":74.9,"v":0},{"d":75.2,"v":480},{"d":75.5,"v":0},{"d":75.9,"v":0},{"d":76.2,"v":520},{"d":76.5,"v":0},{"d":76.9,"v":0},{"d":77.2,"v":500},{"d":77.5,"v":0},{"d":77.9,"v":0},{"d":78.2,"v":535},{"d":78.5,"v":0},{"d":78.9,"v":0},{"d":79.2,"v":526},{"d":79.5,"v":0},{"d":79.9,"v":0},{"d":80.2,"v":377},{"d":80.5,"v":0},
{"d":80.9,"v":0},{"d":81.2,"v":523},{"d":81.5,"v":0},{"d":81.9,"v":0},{"d":82.2,"v":540},{"d":82.5,"v":0},{"d":82.9,"v":0},{"d":83.2,"v":523},{"d":83.5,"v":0},{"d":83.9,"v":0},{"d":84.2,"v":491},{"d":84.5,"v":0},{"d":84.9,"v":0},{"d":85.2,"v":553},{"d":85.5,"v":0},{"d":85.9,"v":0},{"d":86.2,"v":526},{"d":86.5,"v":0},{"d":86.9,"v":0},{"d":87.2,"v":237},{"d":87.5,"v":0},{"d":87.9,"v":0},{"d":88.2,"v":530},{"d":88.5,"v":0},{"d":88.9,"v":0},{"d":89.2,"v":544},{"d":89.5,"v":0},
{"d":89.85,"v":0},{"d":90.2,"v":544},{"d":90.55,"v":0},{"d":90.85,"v":0},{"d":91.2,"v":544},{"d":91.55,"v":0},{"d":91.85,"v":0},{"d":92.2,"v":517},{"d":92.55,"v":0},{"d":92.85,"v":0},{"d":93.2,"v":263},{"d":93.55,"v":0},{"d":93.85,"v":0},{"d":94.2,"v":544},{"d":94.55,"v":0},{"d":94.85,"v":0},{"d":95.2,"v":588},{"d":95.55,"v":0},{"d":95.85,"v":0},{"d":96.2,"v":281},{"d":96.55,"v":0},{"d":96.85,"v":0},{"d":97.2,"v":521},{"d":97.55,"v":0},{"d":97.85,"v":0},{"d":98.2,"v":575},{"d":98.55,"v":0},{"d":98.85,"v":0},{"d":99.2,"v":553},{"d":99.55,"v":0},{"d":99.85,"v":0},{"d":100.2,"v":526},{"d":100.55,"v":0},
{"d":100.85,"v":0},{"d":101.2,"v":614},{"d":101.55,"v":0},{"d":101.85,"v":0},{"d":102.2,"v":547},{"d":102.55,"v":0},{"d":102.85,"v":0},{"d":103.2,"v":626},{"d":103.55,"v":0},{"d":103.85,"v":0},{"d":104.2,"v":640},{"d":104.55,"v":0},{"d":104.85,"v":0},{"d":105.2,"v":517},{"d":105.55,"v":0},{"d":105.85,"v":0},{"d":106.2,"v":582},{"d":106.55,"v":0},{"d":106.85,"v":0},{"d":107.2,"v":605},{"d":107.55,"v":0},{"d":107.85,"v":0},{"d":108.2,"v":386},{"d":108.55,"v":0},{"d":108.85,"v":0},{"d":109.2,"v":614},{"d":109.55,"v":0},{"d":109.85,"v":0},{"d":110.2,"v":637},{"d":110.55,"v":0},
{"d":110.85,"v":0},{"d":111.2,"v":631},{"d":111.55,"v":0},{"d":111.85,"v":0},{"d":112.2,"v":553},{"d":112.55,"v":0},{"d":112.85,"v":0},{"d":113.2,"v":395},{"d":113.55,"v":0},{"d":113.85,"v":0},{"d":114.2,"v":544},{"d":114.55,"v":0},{"d":114.85,"v":0},{"d":115.2,"v":710},{"d":115.55,"v":0},{"d":115.85,"v":0},{"d":116.2,"v":693},{"d":116.55,"v":0},{"d":116.85,"v":0},{"d":117.2,"v":293},{"d":117.55,"v":0},{"d":117.85,"v":0},{"d":118.2,"v":74},{"d":118.55,"v":0},{"d":118.85,"v":0},{"d":119.2,"v":623},{"d":119.55,"v":0},{"d":119.85,"v":0},{"d":120.2,"v":710},{"d":120.55,"v":0},
{"d":120.85,"v":0},{"d":121.2,"v":600},{"d":121.55,"v":0},{"d":121.8,"v":0},{"d":122,"v":230}],
"annText": [{"d":36.1,"v":642,"t":"Jan06"},{"d":50.2,"v":584,"t":"19-21"},{"d":55.4,"v":726,"t":"24-26"},{"d":68.2,"v":668,"t":"Feb03"}],
"arrows": [{"d":36.3,"v":562,"v2":135},{"d":64.2,"v":702,"v2":525}],
"heads": [{"d":36.3,"v":140},{"d":64.2,"v":530}],
"bars": [{"d":49,"d2":51.6,"v":489},{"d":54,"d2":56.7,"v":632}],
"caps": [{"d":49,"v":468,"v2":510},{"d":51.6,"v":468,"v2":510},{"d":54,"v":611,"v2":653},{"d":56.7,"v":611,"v2":653}]
},
"vconcat": [
{
 "width": 960, "height": 152,
 "title": "Air Temperature",
 "layer": [
  {"data": {"name": "T"}, "mark": {"type": "line", "color": "black", "strokeWidth": 2},
   "encoding": {
    "x": {"field": "d", "type": "quantitative", "scale": {"domain": [0, 122], "nice": false, "zero": false}, "axis": {"values": [1,16,31,46,61,76,91,106,121], "labels": false, "grid": true, "title": null}},
    "y": {"field": "v", "type": "quantitative", "scale": {"domain": [-30, 10], "nice": false, "zero": false}, "axis": {"values": [-30,-20,-10,0,10], "grid": true, "title": "°C", "titlePadding": 16, "labelExpr": "'' + datum.value"}}
   }},
  {"data": {"values": [{"d": 1, "v": 0}]}, "mark": {"type": "point", "opacity": 0},
   "encoding": {
    "x": {"field": "d", "type": "quantitative", "axis": {"orient": "top", "values": [1,16,31,46,61,76,91,106,121], "labels": false, "grid": false, "title": null}},
    "y": {"field": "v", "type": "quantitative", "axis": {"orient": "right", "values": [-30,-20,-10,0,10], "labels": false, "grid": false, "title": null}}
   }}
 ],
 "resolve": {"axis": {"x": "independent", "y": "independent"}}
},
{
 "width": 960, "height": 152,
 "title": "Pressure",
 "layer": [
  {"data": {"name": "P"}, "mark": {"type": "line", "color": "black", "strokeWidth": 2},
   "encoding": {
    "x": {"field": "d", "type": "quantitative", "scale": {"domain": [0, 122], "nice": false, "zero": false}, "axis": {"values": [1,16,31,46,61,76,91,106,121], "labels": false, "grid": true, "title": null}},
    "y": {"field": "v", "type": "quantitative", "scale": {"domain": [995, 1040], "nice": false, "zero": false}, "axis": {"values": [1000,1020,1040], "grid": true, "title": "hPa", "labelExpr": "'' + datum.value"}}
   }},
  {"data": {"values": [{"d": 1, "v": 1020}]}, "mark": {"type": "point", "opacity": 0},
   "encoding": {
    "x": {"field": "d", "type": "quantitative", "axis": {"orient": "top", "values": [1,16,31,46,61,76,91,106,121], "labels": false, "grid": false, "title": null}},
    "y": {"field": "v", "type": "quantitative", "axis": {"orient": "right", "values": [1000,1020,1040], "labels": false, "grid": false, "title": null}}
   }}
 ],
 "resolve": {"axis": {"x": "independent", "y": "independent"}}
},
{
 "width": 960, "height": 152,
 "title": "Wind Speed Along Valley",
 "layer": [
  {"data": {"name": "W"}, "mark": {"type": "line", "color": "black", "strokeWidth": 1},
   "encoding": {
    "x": {"field": "d", "type": "quantitative", "scale": {"domain": [0, 122], "nice": false, "zero": false}, "axis": {"values": [1,16,31,46,61,76,91,106,121], "labels": false, "grid": true, "title": null}},
    "y": {"field": "v", "type": "quantitative", "scale": {"domain": [-5, 10], "nice": false, "zero": false}, "axis": {"values": [-5,0,5,10], "grid": true, "title": "m/s", "titlePadding": 7, "labelExpr": "'' + datum.value"}}
   }},
  {"data": {"values": [{"d": 1, "v": 0}]}, "mark": {"type": "point", "opacity": 0},
   "encoding": {
    "x": {"field": "d", "type": "quantitative", "axis": {"orient": "top", "values": [1,16,31,46,61,76,91,106,121], "labels": false, "grid": false, "title": null}},
    "y": {"field": "v", "type": "quantitative", "axis": {"orient": "right", "values": [-5,0,5,10], "labels": false, "grid": false, "title": null}}
   }}
 ],
 "resolve": {"axis": {"x": "independent", "y": "independent"}}
},
{
 "width": 960, "height": 152,
 "title": "Solar Radiation",
 "layer": [
  {"data": {"name": "S"}, "mark": {"type": "line", "color": "black", "strokeWidth": 1},
   "encoding": {
    "x": {"field": "d", "type": "quantitative", "scale": {"domain": [0, 122], "nice": false, "zero": false}, "axis": {"values": [1,16,31,46,61,76,91,106,121], "labels": true, "grid": true, "title": null, "labelPadding": 14, "labelExpr": "['Dec02','Dec17','Jan01','Jan16','Jan31','Feb15','Mar02','Mar17','Apr01'][round((datum.value-1)/15)]"}},
    "y": {"field": "v", "type": "quantitative", "scale": {"domain": [0, 800], "nice": false, "zero": false}, "axis": {"values": [0,200,400,600,800], "grid": true, "title": "W/m²", "labelExpr": "'' + datum.value"}}
   }},
  {"data": {"values": [{"d": 1, "v": 0}]}, "mark": {"type": "point", "opacity": 0},
   "encoding": {
    "x": {"field": "d", "type": "quantitative", "axis": {"orient": "top", "values": [1,16,31,46,61,76,91,106,121], "labels": false, "grid": false, "title": null}},
    "y": {"field": "v", "type": "quantitative", "axis": {"orient": "right", "values": [0,200,400,600,800], "labels": false, "grid": false, "title": null}}
   }},
  {"data": {"name": "arrows"}, "mark": {"type": "rule", "color": "black", "strokeWidth": 1.5},
   "encoding": {"x": {"field": "d", "type": "quantitative", "axis": null}, "y": {"field": "v", "type": "quantitative", "axis": null}, "y2": {"field": "v2"}}},
  {"data": {"name": "heads"}, "mark": {"type": "point", "shape": "triangle-down", "filled": true, "color": "black", "size": 45, "opacity": 1},
   "encoding": {"x": {"field": "d", "type": "quantitative", "axis": null}, "y": {"field": "v", "type": "quantitative", "axis": null}}},
  {"data": {"name": "bars"}, "mark": {"type": "rule", "color": "black", "strokeWidth": 3},
   "encoding": {"x": {"field": "d", "type": "quantitative", "axis": null}, "x2": {"field": "d2"}, "y": {"field": "v", "type": "quantitative", "axis": null}}},
  {"data": {"name": "caps"}, "mark": {"type": "rule", "color": "black", "strokeWidth": 3},
   "encoding": {"x": {"field": "d", "type": "quantitative", "axis": null}, "y": {"field": "v", "type": "quantitative", "axis": null}, "y2": {"field": "v2"}}},
  {"data": {"name": "annText"}, "mark": {"type": "text", "font": "Liberation Sans", "fontSize": 21, "color": "black", "align": "center", "baseline": "middle"},
   "encoding": {"x": {"field": "d", "type": "quantitative", "axis": null}, "y": {"field": "v", "type": "quantitative", "axis": null}, "text": {"field": "t"}}}
 ],
 "resolve": {"axis": {"x": "independent", "y": "independent"}}
}
]
}
